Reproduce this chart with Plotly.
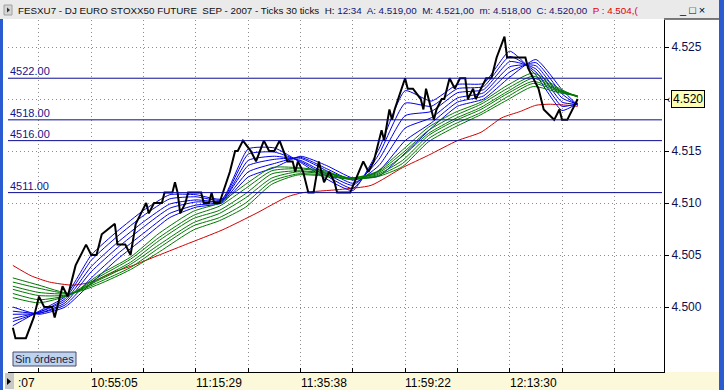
import plotly.graph_objects as go

# ---------------- data ----------------
price_bar = [0,1,5,8,10,12,15,16,19,21,24,28,30,32,34,39,40,43,45,47,49,51,52,54,57,58,61,62,63,64,66,67,72,73,75,76,77,79,83,85,86,88,91,93,96,98,100,102,105,107,108,109,111,112,113,115,117,119,121,123,124,129,134,136,138,140,141,142,144,145,146,150,151,153,156,157,158,159,160,161,162,164,165,167,169,171,173,174,176,177,181,183,185,188,189,192,196,197,201,203,207,209,210,212,214,216]
price_val = [4498,4497,4497,4499,4501,4500,4500,4499,4502,4501,4504,4506,4505,4505,4507,4508,4506,4506,4505,4508,4509,4510,4509,4510,4510,4511,4511,4512,4511,4509,4510,4511,4511,4510,4510,4511,4510,4510,4513,4515,4515,4516,4515,4514,4516,4515,4515,4516,4514,4514,4513,4514,4513,4512,4511,4511,4514,4512,4513,4512,4511,4511,4514,4513,4514,4516,4517,4516,4519,4518,4519,4522,4521,4521,4520,4519,4521,4520,4519,4518,4519,4520,4520,4522,4521,4522,4522,4520,4521,4520,4522,4522,4524,4526,4524,4524,4524,4523,4521,4519,4518,4519,4518,4518,4519,4520]

blue_bar = [0,10,20,30,40,50,60,70,80,90,100,110,120,130,140,150,160,170,180,190,200,210,216]
blue1 = [4498.2,4499.6,4501.0,4505.0,4507.3,4509.3,4510.8,4510.8,4510.4,4515.2,4515.3,4513.9,4512.3,4511.2,4515.2,4520.8,4519.8,4521.4,4521.5,4524.6,4522.3,4518.9,4519.6]
blue2 = [4498.6,4499.5,4500.8,4504.5,4506.8,4508.8,4510.4,4510.6,4510.3,4514.7,4514.9,4514.0,4512.6,4511.4,4514.7,4519.6,4519.3,4521.0,4521.2,4524.1,4522.6,4519.3,4519.6]
blue3 = [4498.9,4499.5,4500.6,4503.9,4506.2,4508.2,4509.9,4510.3,4510.2,4514.1,4514.5,4514.1,4512.8,4511.7,4514.2,4518.4,4518.8,4520.6,4520.9,4523.6,4522.9,4519.7,4519.5]
blue4 = [4499.3,4499.4,4500.4,4503.4,4505.7,4507.7,4509.5,4510.1,4510.2,4513.6,4514.2,4514.3,4513.1,4511.9,4513.6,4517.2,4518.2,4520.1,4520.6,4523.1,4523.2,4520.1,4519.5]
blue5 = [4499.6,4499.4,4500.2,4502.8,4505.1,4507.1,4509.0,4509.8,4510.1,4513.0,4513.8,4514.4,4513.3,4512.2,4513.1,4516.0,4517.7,4519.7,4520.3,4522.6,4523.5,4520.5,4519.4]
blue6 = [4500.0,4499.3,4500.0,4502.3,4504.6,4506.6,4508.6,4509.6,4510.0,4512.5,4513.4,4514.5,4513.6,4512.4,4512.6,4514.8,4517.2,4519.3,4520.0,4522.1,4523.8,4520.9,4519.4]

green_bar = [0,10,22,33,45,56,69,79,89,99,109,119,129,139,149,159,169,179,189,199,209,216]
green1 = [4500.9,4500.4,4501.2,4503.1,4504.8,4507.1,4509.2,4510.0,4511.8,4513.4,4513.4,4513.1,4512.4,4513.0,4515.1,4517.3,4518.7,4519.7,4521.3,4522.5,4521.0,4520.2]
green2 = [4501.3,4500.7,4501.2,4502.9,4504.6,4506.7,4508.8,4509.7,4511.4,4513.1,4513.3,4513.0,4512.4,4512.9,4514.8,4517.0,4518.4,4519.5,4521.0,4522.2,4520.9,4520.2]
green3 = [4501.7,4501.1,4501.2,4502.7,4504.3,4506.4,4508.5,4509.3,4510.9,4512.8,4513.1,4512.9,4512.4,4512.8,4514.5,4516.7,4518.1,4519.2,4520.7,4522.0,4520.8,4520.2]
green4 = [4502.0,4501.4,4501.3,4502.6,4504.1,4506.0,4508.1,4509.0,4510.5,4512.4,4513.0,4512.8,4512.3,4512.7,4514.1,4516.5,4517.9,4519.0,4520.5,4521.7,4520.8,4520.3]
green5 = [4502.4,4501.8,4501.3,4502.4,4503.8,4505.7,4507.8,4508.6,4510.0,4512.1,4512.8,4512.7,4512.3,4512.6,4513.8,4516.2,4517.6,4518.7,4520.2,4521.5,4520.7,4520.3]
green6 = [4502.8,4502.1,4501.3,4502.2,4503.6,4505.3,4507.4,4508.3,4509.6,4511.8,4512.7,4512.6,4512.3,4512.5,4513.5,4515.9,4517.3,4518.5,4519.9,4521.2,4520.6,4520.3]

red_bar = [0,7,14,23,30,38,46,54,66,80,93,105,111,125,137,149,159,170,179,187,194,200,205,212,216]
red_val = [4504,4503,4502.4,4502.1,4502.4,4503.3,4504,4504.8,4506,4507.4,4509,4510.6,4511,4511.3,4511.7,4513.4,4514.6,4516,4516.8,4518.2,4518.8,4519.4,4519.5,4519.4,4519.3]

levels = [4522, 4518, 4516, 4511]
level_labels = ["4522.00", "4518.00", "4516.00", "4511.00"]

y_ticks = [4500, 4505, 4510, 4515, 4520, 4525]
y_tick_text = ["4.500", "4.505", "4.510", "4.515", "", "4.525"]  # 4.520 shown in the price box

x_ticks = [10, 30, 50, 70, 90, 110, 130, 150, 170, 190, 210, 230]
x_label_bars = [30, 70, 110, 150, 190]
x_labels = ["10:55:05", "11:15:29", "11:35:38", "11:59:22", "12:13:30"]
first_label = ":07"

last_price_text = "4.520"
last_price = 4520

header_main = "FESXU7 - DJ EURO STOXX50 FUTURE&nbsp;&nbsp;SEP - 2007 - Ticks 30 ticks&nbsp; H: "
header_stats = "12:34&nbsp; A: 4.519,00&nbsp; M: 4.521,00&nbsp; m: 4.518,00&nbsp; C: 4.520,00&nbsp; "
header_prev = "P : 4.504,("

# ---------------- layout geometry ----------------
W, H = 724, 390
PL, PR, PT, PB = 8, 664, 20, 372  # plot area in pixels
pw, ph = PR - PL, PB - PT


def px(x):
    return (x - PL) / pw


def py(y):
    return (PB - y) / ph


FONT = "Liberation Sans, Arial, sans-serif"

fig = go.Figure()

fig.add_trace(go.Scatter(x=red_bar, y=red_val, mode="lines",
                         line=dict(color="#D00000", width=1, shape="spline", smoothing=0.6)))
for s in [blue6, blue5, blue4, blue3, blue2, blue1]:
    fig.add_trace(go.Scatter(x=blue_bar, y=s, mode="lines",
                             line=dict(color="#0000E6", width=1, shape="spline", smoothing=0.5)))
for s in [green6, green5, green4, green3, green2, green1]:
    fig.add_trace(go.Scatter(x=green_bar, y=s, mode="lines",
                             line=dict(color="#007800", width=1, shape="spline", smoothing=0.6)))
fig.add_trace(go.Scatter(x=price_bar, y=price_val, mode="lines",
                         line=dict(color="#000000", width=2)))

shapes = []
# header bar
shapes.append(dict(type="rect", xref="paper", yref="paper", x0=px(0), x1=px(W), y0=py(19), y1=py(0),
                   fillcolor="#EAEAEA", line=dict(width=0), layer="below"))
# header icon
shapes.append(dict(type="rect", xref="paper", yref="paper", x0=px(4), x1=px(12), y0=py(15), y1=py(5),
                   fillcolor="#D6D6D6", line=dict(color="#A0A0A0", width=1)))
shapes.append(dict(type="path", xref="paper", yref="paper",
                   path=f"M {px(7)},{py(7.5)} L {px(7)},{py(12.5)} L {px(10)},{py(10)} Z",
                   fillcolor="#303030", line=dict(width=0)))
# beige time axis band
shapes.append(dict(type="rect", xref="paper", yref="paper", x0=px(PL), x1=px(719), y0=py(390), y1=py(PB),
                   fillcolor="#FBF9DA", line=dict(width=0), layer="below"))
# right panel top border
shapes.append(dict(type="line", xref="paper", yref="paper", x0=px(PR), x1=px(719), y0=py(19), y1=py(19),
                   line=dict(color="#000000", width=1)))
# window borders
shapes.append(dict(type="rect", xref="paper", yref="paper", x0=px(0), x1=px(3), y0=py(390), y1=py(19),
                   fillcolor="#2A5BD0", line=dict(width=0)))
shapes.append(dict(type="rect", xref="paper", yref="paper", x0=px(719), x1=px(W), y0=py(390), y1=py(0),
                   fillcolor="#2A5BD0", line=dict(width=0)))
# small grey box bottom-left
shapes.append(dict(type="rect", xref="paper", yref="paper", x0=px(5), x1=px(14), y0=py(389), y1=py(373),
                   fillcolor="#C8C8C8", line=dict(width=0)))
shapes.append(dict(type="path", xref="paper", yref="paper",
                   path=f"M {px(7)},{py(378)} L {px(7)},{py(385)} L {px(11)},{py(381.5)} Z",
                   fillcolor="#000000", line=dict(width=0)))
# "Sin órdenes" button
shapes.append(dict(type="rect", xref="paper", yref="paper", x0=px(13), x1=px(76), y0=py(366), y1=py(352),
                   fillcolor="#BCD4EE", line=dict(color="#4A4A6A", width=1)))
# support / resistance levels
for lv in levels:
    shapes.append(dict(type="line", xref="paper", yref="y", x0=0, x1=px(662), y0=lv, y1=lv,
                       line=dict(color="#0A0A96", width=1)))

annotations = []
annotations.append(dict(xref="paper", yref="paper", x=px(16), y=py(10), xanchor="left", yanchor="middle",
                        showarrow=False,
                        text=f"<span style='color:#101010'>{header_main}</span>"
                             f"<span style='color:#14146E'>{header_stats}</span>"
                             f"<span style='color:#E00000'>{header_prev}</span>",
                        font=dict(family=FONT, size=9.8)))
annotations.append(dict(xref="paper", yref="paper", x=px(692), y=py(10), xanchor="center", yanchor="middle",
                        showarrow=False, text="_ □ ×", font=dict(family=FONT, size=11, color="#000000")))
for lv, lab in zip(levels, level_labels):
    annotations.append(dict(xref="paper", yref="y", x=px(8), y=lv, xanchor="left", yanchor="bottom",
                            showarrow=False, text=lab, font=dict(family=FONT, size=11, color="#14148C"),
                            yshift=-1))
for b, lab in zip(x_label_bars, x_labels):
    annotations.append(dict(xref="x", yref="paper", x=b, y=py(374), xanchor="left", yanchor="top",
                            showarrow=False, text=lab, font=dict(family=FONT, size=12, color="#000000"),
                            xshift=-2))
annotations.append(dict(xref="paper", yref="paper", x=px(16), y=py(374), xanchor="left", yanchor="top",
                        showarrow=False, text=first_label, font=dict(family=FONT, size=12, color="#000000")))
annotations.append(dict(xref="paper", yref="paper", x=px(44.5), y=py(359), xanchor="center", yanchor="middle",
                        showarrow=False, text="Sin órdenes", font=dict(family=FONT, size=11, color="#1A1A50")))
annotations.append(dict(xref="paper", yref="y", x=px(671), y=last_price, xanchor="left", yanchor="middle",
                        showarrow=False, text=last_price_text, font=dict(family=FONT, size=12, color="#000000"),
                        bgcolor="#FFFFB4", bordercolor="#000000", borderwidth=1, borderpad=1))
annotations.append(dict(xref="paper", yref="y", x=px(665), y=last_price, xanchor="left", yanchor="middle",
                        showarrow=False, text="‹", font=dict(family=FONT, size=10, color="#000000")))

fig.update_layout(
    width=W, height=H,
    margin=dict(l=PL, r=W - PR, t=PT, b=H - PB, pad=0),
    paper_bgcolor="#FFFFFF", plot_bgcolor="#FFFFFF",
    showlegend=False, hovermode=False,
    shapes=shapes, annotations=annotations,
    font=dict(family=FONT),
    xaxis=dict(range=[-1.85, 249.0], tickmode="array", tickvals=x_ticks, ticktext=[""] * len(x_ticks),
               ticks="inside", ticklen=4, tickcolor="#000000", showline=True, linecolor="#000000",
               linewidth=1, mirror=False, showgrid=True, gridcolor="#8C8C8C", griddash="1px,3px",
               gridwidth=1, zeroline=False, fixedrange=True),
    yaxis=dict(range=[4493.75, 4527.6], side="right", tickmode="array", tickvals=y_ticks,
               ticktext=y_tick_text, ticks="outside", ticklen=4, tickcolor="#000000",
               tickfont=dict(family=FONT, size=12, color="#0F0F50"),
               showline=True, linecolor="#000000", linewidth=1, showgrid=True, gridcolor="#8C8C8C",
               griddash="1px,3px", gridwidth=1, zeroline=False, fixedrange=True),
)

fig.write_html("out.html")
